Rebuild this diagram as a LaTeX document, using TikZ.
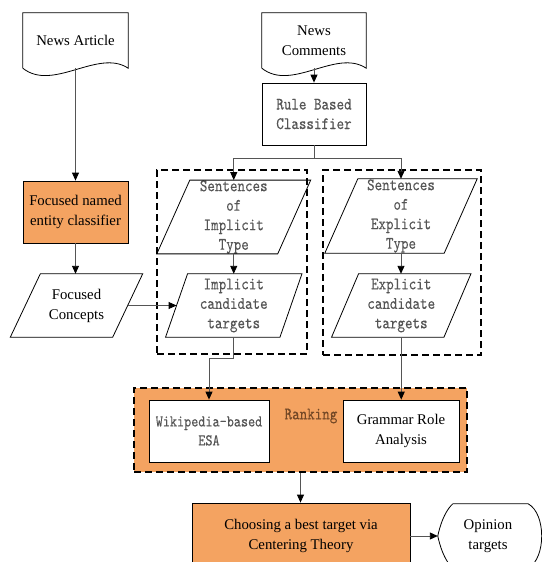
\documentclass[tikz,border=0pt]{standalone}
\usepackage{fontspec}
\setmainfont{Liberation Serif}
\newfontfamily\monof{lmmono10-regular.otf}[FakeStretch=0.82, FakeBold=0.2]
\usetikzlibrary{arrows.meta,calc}
\definecolor{orF}{RGB}{244,163,97}
\definecolor{lineG}{RGB}{85,85,85}
\definecolor{monoG}{RGB}{85,85,85}
\definecolor{rankB}{RGB}{115,72,38}
\newcommand\mypara[2]{\draw[shapeline] ([xshift=#2/2]#1.north west) -- ([xshift=#2/2]#1.north east) -- ([xshift=-#2/2]#1.south east) -- ([xshift=-#2/2]#1.south west) -- cycle;}
\newcommand\mydoc[1]{\draw[shapeline] (#1.south west) -- (#1.north west) -- (#1.north east) -- (#1.south east) .. controls ($(#1.south east)+(-30,-20)$) and ($(#1.south west)+(30,24)$) .. (#1.south west);}
\tikzset{
  serifT/.style={font=\fontsize{14.8}{20}\selectfont, align=center, text=black},
  monoT/.style={font=\monof\fontsize{17.5}{19.5}\selectfont, align=center, text=monoG},
  plainbox/.style={draw, line width=0.8pt, inner sep=0pt, rectangle},
  ghost/.style={inner sep=0pt, rectangle},
  frame/.style={draw, line width=2.2pt, dash pattern=on 7pt off 4pt, inner sep=0pt, rectangle},
  conn/.style={draw=lineG, line width=0.9pt, -{Triangle[length=8pt,width=7pt,color=black]}},
  plain/.style={draw=lineG, line width=0.9pt},
  shapeline/.style={line width=0.8pt}
}
\begin{document}
\begin{tikzpicture}[x=1pt,y=-1pt]
\useasboundingbox (0,0) rectangle (541,562);
% frames
\node[frame, minimum width=150, minimum height=184] (framI) at (232,262) {};
\node[frame, minimum width=158, minimum height=185] (framE) at (402,262.5) {};
\node[frame, fill=orF, minimum width=333, minimum height=84] (rank) at (300.5,430) {};
% documents
\node[ghost, serifT, minimum width=105, minimum height=55] (art) at (75.5,40.5) {News Article};
\mydoc{art}
\node[ghost, serifT, minimum width=104, minimum height=55] (com) at (314,40.5) {News\\Comments};
\mydoc{com}
% boxes
\node[plainbox, monoT, minimum width=104, minimum height=62] (rule) at (314,114) {Rule Based\\Classifier};
\node[plainbox, serifT, fill=orF, minimum width=105, minimum height=62] (fnec) at (75.5,212) {Focused named\\entity classifier};
% parallelograms
\node[ghost, monoT, minimum width=120.5, minimum height=72] (simp) at (233.75,217) {Sentences\\of\\Implicit\\Type};
\mypara{simp}{33}
\node[ghost, monoT, minimum width=114, minimum height=63] (icand) at (233.75,305.5) {Implicit\\candidate\\targets};
\mypara{icand}{22}
\node[ghost, monoT, minimum width=119, minimum height=74] (sexp) at (401,216) {Sentences\\of\\Explicit\\Type};
\mypara{sexp}{33}
\node[ghost, monoT, minimum width=112, minimum height=63] (ecand) at (401.25,305.5) {Explicit\\candidate\\targets};
\mypara{ecand}{27}
\node[ghost, serifT, minimum width=102, minimum height=63] (fc) at (76.5,305.5) {Focused\\Concepts};
\mypara{fc}{30}
% ranking content
\node[plainbox, fill=white, monoT, font=\monof\fontsize{16.5}{19}\selectfont, minimum width=120, minimum height=62] (wiki) at (209,431) {Wikipedia-based\\ESA};
\node[plainbox, fill=white, serifT, minimum width=116, minimum height=62] (gram) at (401,431) {Grammar Role\\Analysis};
\node[ghost, monoT, text=rankB] (ranklab) at (311,416) {Ranking};
% final
\node[plainbox, fill=orF, serifT, minimum width=218, minimum height=66] (choose) at (301,536) {Choosing a best target via\\Centering Theory};
\node[ghost, serifT, minimum width=100, minimum height=64] (opi) at (488,536) {Opinion\\targets};
\draw[shapeline] ($(opi.north west)+(15,0)$) -- ($(opi.north east)+(-10,0)$) .. controls ($(opi.north east)+(8,10)$) and ($(opi.south east)+(8,-10)$) .. ($(opi.south east)+(-10,0)$) -- ($(opi.south west)+(15,0)$) .. controls ($(opi.south west)+(4,-10)$) and (opi.west) .. (opi.west) .. controls (opi.west) and ($(opi.north west)+(4,10)$) .. ($(opi.north west)+(15,0)$);
% connectors
\draw[conn] (art.south) -- (fnec.north);
\draw[conn] (fnec.south) -- (fnec.south |- fc.north);
\draw[conn] (com.south) -- (rule.north);
\draw[plain] (rule.south) -- ++(0,13) coordinate (split);
\draw[conn] (split) -| (simp.north);
\draw[conn] (split) -| (sexp.north);
\draw[conn] (simp.south) -- (icand.north);
\draw[conn] (sexp.south) -- (sexp.south |- ecand.north);
\draw[conn] (fc.east) -- (icand.west);
\draw[conn] (icand.south) -- ++(0,21) -| (wiki.north);
\draw[conn] (ecand.south) -- (ecand.south |- gram.north);
\draw[conn] (rank.south) -- (rank.south |- choose.north);
\draw[conn] (choose.east) -- (opi.west);
\end{tikzpicture}
\end{document}
